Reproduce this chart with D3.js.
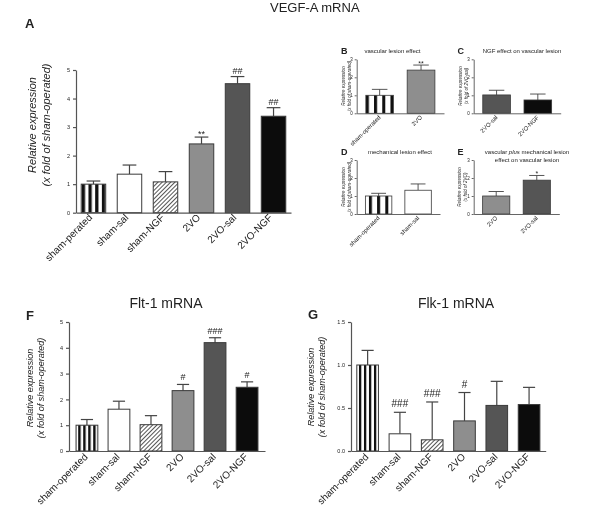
<!DOCTYPE html>
<meta charset="utf-8">
<style>
body { margin: 0; background: #fff; }
svg { will-change: transform; }
text { font-family: "Liberation Sans", Arial, sans-serif; fill: #222; }
</style>
<body>
<script src="https://cdn.jsdelivr.net/npm/d3@7"></script>
<script>
// group names
var groups  = ["sham-operated", "sham-sal", "sham-NGF", "2VO", "2VO-sal", "2VO-NGF"];
var groupsA = ["sham-perated", "sham-sal", "sham-NGF", "2VO", "2VO-sal", "2VO-NGF"];

// A: VEGF-A mRNA
var vegfMean = [1.0, 1.35, 1.08, 2.41, 4.52, 3.38];
var vegfSem  = [0.11, 0.32, 0.36, 0.24, 0.25, 0.30];
var vegfSig  = ["", "", "", "**", "##", "##"];

// B-E: VEGF-A sub comparisons
var bGroups = ["sham-operated", "2VO"];
var bMean = [1.0, 2.4],  bSem = [0.33, 0.28], bSig = ["", "**"];
var cGroups = ["2VO-sal", "2VO-NGF"];
var cMean = [1.02, 0.74], cSem = [0.26, 0.33], cSig = ["", ""];
var dGroups = ["sham-operated", "sham-sal"];
var dMean = [1.0, 1.32], dSem = [0.15, 0.35], dSig = ["", ""];
var eGroups = ["2VO", "2VO-sal"];
var eMean = [1.0, 1.88], eSem = [0.25, 0.26], eSig = ["", "*"];

// F: Flt-1 mRNA
var fltMean = [1.0, 1.62, 1.02, 2.34, 4.2, 2.47];
var fltSem  = [0.22, 0.31, 0.35, 0.24, 0.19, 0.21];
var fltSig  = ["", "", "", "#", "###", "#"];

// G: Flk-1 mRNA
var flkMean = [1.0, 0.20, 0.13, 0.35, 0.53, 0.54];
var flkSem  = [0.17, 0.25, 0.44, 0.33, 0.28, 0.20];
var flkSig  = ["", "###", "###", "#", "", ""];

// tick values
var ticksBig   = [0, 1, 2, 3, 4, 5];
var ticksFlk   = [0, 0.5, 1.0, 1.5];
var ticksSmall = [0, 1, 2, 3];

var fills = {
  "sham-sal": "#fff",
  "sham-NGF": "url(#hatch)",
  "2VO": "#8e8e8e",
  "2VO-sal": "#555",
  "2VO-NGF": "#0c0c0c"
};

var svg = d3.select("body").append("svg")
    .attr("width", 600)
    .attr("height", 510);
svg.append("rect").attr("width", 600).attr("height", 510).attr("fill", "#fff");

var defs = svg.append("defs");
var hatch = defs.append("pattern")
    .attr("id", "hatch")
    .attr("patternUnits", "userSpaceOnUse")
    .attr("width", 3).attr("height", 3)
    .attr("patternTransform", "rotate(45)");
hatch.append("rect").attr("width", 3).attr("height", 3).attr("fill", "#fff");
hatch.append("line").attr("x1", 0.5).attr("y1", 0).attr("x2", 0.5).attr("y2", 3)
    .attr("stroke", "#555").attr("stroke-width", 1);

function stripes(id, x, period, black) {
  var p = defs.append("pattern")
      .attr("id", id)
      .attr("patternUnits", "userSpaceOnUse")
      .attr("x", x).attr("y", 0)
      .attr("width", period).attr("height", 10);
  p.append("rect").attr("width", period).attr("height", 10).attr("fill", "#fff");
  p.append("rect").attr("width", black).attr("height", 10).attr("fill", "#111");
}

function panel(o) {
  var g = svg.append("g");
  var x = d3.scaleBand().domain(o.labels).range([o.x0, o.x1])
      .paddingInner(o.pi).paddingOuter(o.po);
  var y = d3.scaleLinear().domain([0, o.yMax]).range([o.y0, o.yTop]);
  var bw = x.bandwidth();

  // vertical stripes for the sham-operated bar, centred in the bar
  var k = Math.floor((bw - o.stripe[1]) / o.stripe[0]) + 1;
  var off = (bw - ((k - 1) * o.stripe[0] + o.stripe[1])) / 2;
  stripes("st-" + o.id, x(o.labels[0]) + off, o.stripe[0], o.stripe[1]);
  function fill(l) {
    return l.indexOf("rated") > 0 ? "url(#st-" + o.id + ")" : fills[l];
  }

  var data = o.labels.map(function(l, i) {
    return {label: l, mean: o.mean[i], sem: o.sem[i], sig: o.sig[i]};
  });

  // error bars (upper only)
  var eb = g.selectAll(".err").data(data).enter().append("g")
      .attr("stroke", "#444").attr("stroke-width", o.ebw);
  eb.append("line")
      .attr("x1", function(d) { return x(d.label) + bw / 2; })
      .attr("x2", function(d) { return x(d.label) + bw / 2; })
      .attr("y1", function(d) { return y(d.mean); })
      .attr("y2", function(d) { return y(d.mean + d.sem); });
  eb.append("line")
      .attr("x1", function(d) { return x(d.label) + bw * 0.22; })
      .attr("x2", function(d) { return x(d.label) + bw * 0.78; })
      .attr("y1", function(d) { return y(d.mean + d.sem); })
      .attr("y2", function(d) { return y(d.mean + d.sem); });

  // bars
  g.selectAll(".bar").data(data).enter().append("rect")
      .attr("x", function(d) { return x(d.label); })
      .attr("y", function(d) { return y(d.mean); })
      .attr("width", bw)
      .attr("height", function(d) { return o.y0 - y(d.mean); })
      .attr("fill", function(d) { return fill(d.label); })
      .attr("stroke", "#3a3a3a")
      .attr("stroke-width", o.bsw);

  // significance marks
  g.selectAll(".sig").data(data).enter().append("text")
      .attr("x", function(d) { return x(d.label) + bw / 2; })
      .attr("y", function(d) {
        return y(d.mean + d.sem) - o.sigGap + (d.sig.charAt(0) == "*" ? o.sigFont * 0.35 : 0);
      })
      .attr("text-anchor", "middle")
      .style("font-size", o.sigFont + "px")
      .text(function(d) { return d.sig; });

  // y axis
  var ya = g.append("g")
      .attr("transform", "translate(" + o.x0 + ",0)")
      .call(d3.axisLeft(y).tickValues(o.ticks).tickSize(o.tickLen).tickSizeOuter(0)
        .tickPadding(o.tickPad).tickFormat(o.fmt));
  ya.selectAll("path,line").attr("stroke", "#555").attr("stroke-width", o.axw);
  ya.selectAll("text").style("font-size", o.tickFont + "px").attr("fill", "#333")
      .style("font-family", "'Liberation Sans', Arial, sans-serif");

  // x axis with rotated labels
  var xa = g.append("g")
      .attr("transform", "translate(0," + o.y0 + ")")
      .call(d3.axisBottom(x).tickSize(0).tickSizeOuter(0));
  xa.select(".domain").attr("stroke", "#555").attr("stroke-width", o.axw);
  xa.selectAll("text")
      .attr("x", 0).attr("y", 0).attr("dy", "0.35em")
      .attr("text-anchor", "end")
      .attr("transform", "translate(" + o.labDx + "," + o.labDy + ") rotate(-45)")
      .attr("fill", "#222")
      .style("font-size", o.labFont + "px")
      .style("font-family", "'Liberation Sans', Arial, sans-serif");

  // y label
  o.ylab.forEach(function(t, i) {
    g.append("text")
        .attr("transform", "translate(" + o.ylx[i] + "," + o.yly + ") rotate(-90)")
        .attr("dy", "0.35em")
        .attr("text-anchor", "middle")
        .style("font-size", o.ylFont + "px")
        .style("font-style", "italic")
        .text(t);
  });
}

var base = {pi: 0.32, po: 0.15, tickLen: 3, tickPad: 3, tickFont: 5.5, axw: 1.2, bsw: 1,
            ebw: 1.2, labFont: 10, sigFont: 9, sigGap: 3, fmt: d3.format("d")};
var small = {pi: 0.33, po: 0.22, tickLen: 2, tickPad: 2, tickFont: 4.5, axw: 0.9, bsw: 0.8,
             ebw: 0.9, labFont: 6, sigFont: 7, sigGap: 2, fmt: d3.format("d"),
             labDx: 0, labDy: 3, yMax: 3, ticks: ticksSmall, stripe: [8.2, 3], ylFont: 4.5};

panel(Object.assign({}, base, {
  id: "a", labels: groupsA, mean: vegfMean, sem: vegfSem, sig: vegfSig,
  x0: 76, x1: 291, po: 0.145, y0: 212.7, yTop: 70, yMax: 5, ticks: ticksBig,
  labDx: -3, labDy: 3, stripe: [6.7, 3.3],
  ylab: ["Relative expression", "(x fold of sham-operated)"], ylx: [32, 46], yly: 125, ylFont: 11
}));

panel(Object.assign({}, small, {
  id: "b", labels: bGroups, mean: bMean, sem: bSem, sig: bSig,
  x0: 356.7, x1: 444, y0: 113.3, yTop: 59.3,
  ylab: ["Relative expression", "(x fold of sham-operated)"], ylx: [343.7, 349.7], yly: 86
}));
panel(Object.assign({}, small, {
  id: "c", labels: cGroups, mean: cMean, sem: cSem, sig: cSig,
  x0: 473.7, x1: 560.7, y0: 113.3, yTop: 59.3,
  ylab: ["Relative expression", "(x fold of 2VO-sal)"], ylx: [460.7, 466.7], yly: 86
}));
panel(Object.assign({}, small, {
  id: "d", labels: dGroups, mean: dMean, sem: dSem, sig: dSig,
  x0: 356.7, x1: 440, y0: 214, yTop: 160,
  ylab: ["Relative expression", "(x fold of sham-operated)"], ylx: [343.7, 349.7], yly: 187
}));
panel(Object.assign({}, small, {
  id: "e", labels: eGroups, mean: eMean, sem: eSem, sig: eSig,
  x0: 473.7, x1: 559.3, y0: 214, yTop: 160,
  ylab: ["Relative expression", "(x fold of 2VO)"], ylx: [459, 465.5], yly: 187
}));

panel(Object.assign({}, base, {
  id: "f", labels: groups, mean: fltMean, sem: fltSem, sig: fltSig,
  x0: 69, x1: 265, po: 0.22, y0: 451, yTop: 322, yMax: 5, ticks: ticksBig,
  labDx: -1, labDy: 4, stripe: [5, 2.5], sigFont: 9, sigGap: 4,
  ylab: ["Relative expression", "(x fold of sham-operated)"], ylx: [30, 41], yly: 388, ylFont: 9
}));

panel(Object.assign({}, base, {
  id: "g", labels: groups, mean: flkMean, sem: flkSem, sig: flkSig,
  x0: 351, x1: 545.7, pi: 0.33, po: 0.18, y0: 451, yTop: 322, yMax: 1.5, ticks: ticksFlk,
  fmt: d3.format(".1f"), labDx: -1, labDy: 4, stripe: [5, 2.3], sigFont: 10, sigGap: 5,
  ylab: ["Relative expression", "(x fold of sham-operated)"], ylx: [311, 322], yly: 387, ylFont: 9
}));

// titles and panel letters
function label(txt, x, y, size, bold, anchor) {
  return svg.append("text").attr("x", x).attr("y", y)
      .attr("text-anchor", anchor || "start")
      .style("font-size", size + "px")
      .style("font-weight", bold ? "bold" : "normal")
      .text(txt);
}
label("VEGF-A mRNA", 270, 12, 13, false);
label("Flt-1 mRNA", 166, 308, 14, false, "middle");
label("Flk-1 mRNA", 456, 308, 14, false, "middle");
label("A", 25, 28, 13, true);
label("F", 26, 320, 13, true);
label("G", 308, 319, 13, true);
label("B", 341, 54, 9, true);
label("C", 457.5, 54, 9, true);
label("D", 341, 155, 9, true);
label("E", 457.5, 155, 9, true);
label("vascular lesion effect", 392.5, 53, 6, false, "middle");
label("NGF effect on vascular lesion", 522, 53, 6, false, "middle");
label("mechanical lesion effect", 400, 154, 6, false, "middle");
var e1 = label("", 527, 154, 6, false, "middle");
e1.append("tspan").text("vascular ");
e1.append("tspan").style("font-style", "italic").text("plus");
e1.append("tspan").text(" mechanical lesion");
label("effect on vascular lesion", 527, 161.5, 6, false, "middle");
</script>
</body>
